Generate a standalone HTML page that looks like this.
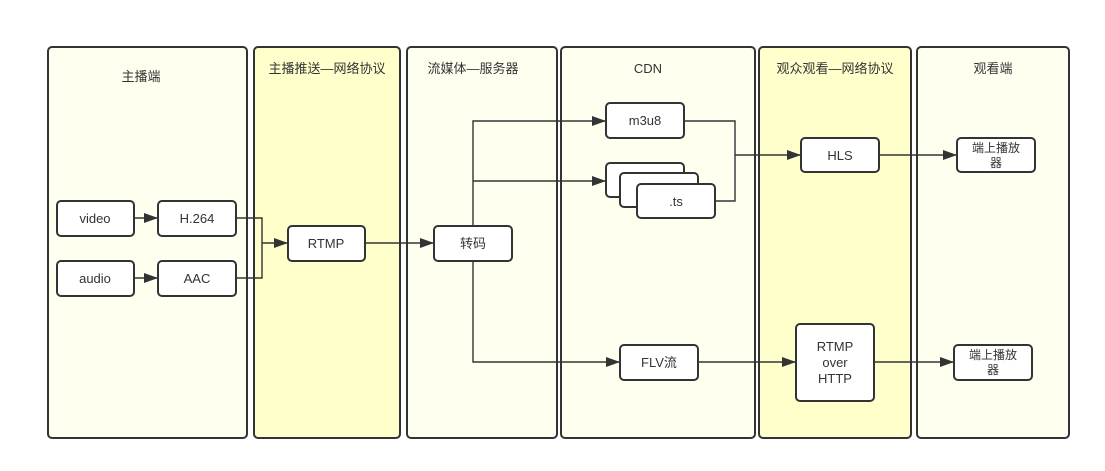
<!DOCTYPE html>
<html><head><meta charset="utf-8"><style>
html,body{margin:0;padding:0;background:#fff;width:1105px;height:471px;overflow:hidden}
svg text{font-family:"Liberation Sans","Noto Sans CJK SC",sans-serif;font-size:13px;fill:#333;text-anchor:middle}
svg text.s{font-size:12px}
</style></head><body>
<svg width="1105" height="471" viewBox="0 0 1105 471" xmlns="http://www.w3.org/2000/svg">
<defs><marker id="a" markerWidth="14" markerHeight="10" refX="13" refY="5" orient="auto" markerUnits="userSpaceOnUse"><path d="M0,0L14,5L0,10z" fill="#333"/></marker></defs>
<g stroke="#333" stroke-width="2">
<rect x="48" y="47" width="199" height="391" rx="4" fill="#fffff0"/>
<rect x="254" y="47" width="146" height="391" rx="4" fill="#ffffcc"/>
<rect x="407" y="47" width="150" height="391" rx="4" fill="#fffff0"/>
<rect x="561" y="47" width="194" height="391" rx="4" fill="#fffff0"/>
<rect x="759" y="47" width="152" height="391" rx="4" fill="#ffffcc"/>
<rect x="917" y="47" width="152" height="391" rx="4" fill="#fffff0"/>
</g>
<text x="141" y="81">主播端</text>
<text x="327" y="73">主播推送—网络协议</text>
<text x="473" y="73">流媒体—服务器</text>
<text x="648" y="73">CDN</text>
<text x="835" y="73">观众观看—网络协议</text>
<text x="993" y="73">观看端</text>
<g fill="none" stroke="#333" stroke-width="1.4">
<path d="M134,218H157" marker-end="url(#a)"/>
<path d="M134,278H157" marker-end="url(#a)"/>
<path d="M236,218H262V278H236"/>
<path d="M262,243H287" marker-end="url(#a)"/>
<path d="M365,243H433" marker-end="url(#a)"/>
<path d="M473,226V121H605" marker-end="url(#a)"/>
<path d="M473,181H605" marker-end="url(#a)"/>
<path d="M473,261V362H619" marker-end="url(#a)"/>
<path d="M684,121H735V201H715"/>
<path d="M735,155H800" marker-end="url(#a)"/>
<path d="M879,155H956" marker-end="url(#a)"/>
<path d="M698,362H795" marker-end="url(#a)"/>
<path d="M874,362H953" marker-end="url(#a)"/>
</g>
<g fill="#fff" stroke="#333" stroke-width="2">
<rect x="57" y="201" width="77" height="35" rx="4"/>
<rect x="158" y="201" width="78" height="35" rx="4"/>
<rect x="57" y="261" width="77" height="35" rx="4"/>
<rect x="158" y="261" width="78" height="35" rx="4"/>
<rect x="288" y="226" width="77" height="35" rx="4"/>
<rect x="434" y="226" width="78" height="35" rx="4"/>
<rect x="606" y="103" width="78" height="35" rx="4"/>
<rect x="606" y="163" width="78" height="34" rx="4"/>
<rect x="620" y="173" width="78" height="34" rx="4"/>
<rect x="637" y="184" width="78" height="34" rx="4"/>
<rect x="620" y="345" width="78" height="35" rx="4"/>
<rect x="801" y="138" width="78" height="34" rx="4"/>
<rect x="957" y="138" width="78" height="34" rx="4"/>
<rect x="796" y="324" width="78" height="77" rx="4"/>
<rect x="954" y="345" width="78" height="35" rx="4"/>
</g>
<text x="95" y="223">video</text>
<text x="197" y="223">H.264</text>
<text x="95" y="283">audio</text>
<text x="197" y="283">AAC</text>
<text x="326" y="248">RTMP</text>
<text x="473" y="248">转码</text>
<text x="645" y="125">m3u8</text>
<text x="676" y="206">.ts</text>
<text x="659" y="367">FLV流</text>
<text x="840" y="160">HLS</text>
<text class="s" x="996" y="152">端上播放</text>
<text class="s" x="996" y="167">器</text>
<text x="835" y="351">RTMP</text>
<text x="835" y="367">over</text>
<text x="835" y="383">HTTP</text>
<text class="s" x="993" y="359">端上播放</text>
<text class="s" x="993" y="374">器</text>
</svg>
</body></html>
